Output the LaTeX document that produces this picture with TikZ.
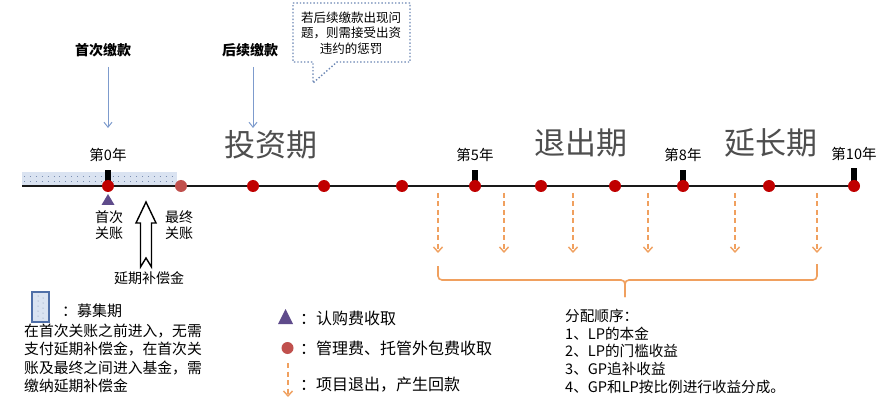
\documentclass[tikz,border=0pt]{standalone}
\usepackage{fontspec}
\setmainfont{Noto Sans CJK SC}
\usetikzlibrary{arrows.meta}
\definecolor{dotred}{RGB}{192,0,0}
\definecolor{lightred}{RGB}{192,80,77}
\definecolor{blueline}{RGB}{125,155,205}
\definecolor{fillblue}{RGB}{218,227,241}
\definecolor{dotblue}{RGB}{120,140,175}
\definecolor{boxblue}{RGB}{79,111,168}
\definecolor{calloutc}{RGB}{108,135,181}
\definecolor{orangec}{RGB}{240,160,95}
\definecolor{purplec}{RGB}{95,75,139}
\definecolor{bigtext}{RGB}{78,78,78}
\tikzset{
  reddot/.style={circle,fill=dotred,minimum size=12pt,inner sep=0pt},
  tickmark/.style={fill=black,draw=none},
  yearlbl/.style={font=\fontsize{14.5}{16}\selectfont,inner sep=0pt},
  biglbl/.style={font=\fontsize{31}{33}\selectfont,inner sep=0pt,text=bigtext},
  paylbl/.style={font=\bfseries\fontsize{14}{16}\selectfont,inner sep=0pt},
  bluearrow/.style={draw=blueline,line width=1pt,-{Straight Barb[length=5pt,width=8pt]}},
  orangearrow/.style={draw=orangec,line width=1.6pt,dash pattern=on 5pt off 3.5pt,-{Straight Barb[length=5pt,width=9pt,line width=1.4pt]}},
  smalltxt/.style={font=\fontsize{14}{16.5}\selectfont,inner sep=0pt},
  legtxt/.style={font=\fontsize{16}{18}\selectfont,inner sep=0pt,anchor=west},
  listtxt/.style={font=\fontsize{14.6}{17.7}\selectfont,inner sep=0pt,anchor=north west,align=left},
}
\begin{document}
\begin{tikzpicture}[x=1pt,y=-1pt]
\useasboundingbox[fill=white] (0,0) rectangle (889,414);

% fundraising period band
\fill[fillblue] (22,172) rectangle (177,186);
\foreach \yy in {176.5,181.5}{
  \draw[dotblue,line width=0.9pt,dash pattern=on 0.9pt off 5pt] (24,\yy) -- (177,\yy);
}

% timeline
\coordinate (tlstart) at (22,186);
\coordinate (tlend) at (855,186);
\draw[line width=2.2pt,black!90] (tlstart) -- (tlend);

% tick marks
\fill[tickmark] (105,170) rectangle (111,186);
\fill[tickmark] (472,170) rectangle (478,186);
\fill[tickmark] (680,170) rectangle (686,186);
\fill[tickmark] (851,168) rectangle (857,186);

% dots
\node[reddot] (d0) at (108,186) {};
\node[reddot,fill=lightred] (dfin) at (181,186) {};
\node[reddot] (d2) at (253,186) {};
\node[reddot] (d3) at (324,186) {};
\node[reddot] (d4) at (402,186) {};
\node[reddot] (d5) at (475,186) {};
\node[reddot] (d6) at (541,186) {};
\node[reddot] (d7) at (615,186) {};
\node[reddot] (d8) at (683,186) {};
\node[reddot] (d9) at (769,186) {};
\node[reddot] (d10) at (854,186) {};

% year labels
\node[yearlbl] (y0) at (108,155) {第0年};
\node[yearlbl] (y5) at (475,155) {第5年};
\node[yearlbl] (y8) at (683,155) {第8年};
\node[yearlbl] (y10) at (854,154) {第10年};

% period labels
\node[biglbl] (p1) at (271,145) {投资期};
\node[biglbl] (p2) at (581,143) {退出期};
\node[biglbl] (p3) at (771,143) {延长期};

% payments
\node[paylbl] (pay1) at (103,50) {首次缴款};
\node[paylbl] (pay2) at (250,50) {后续缴款};
\coordinate (a1e) at (108,128);
\coordinate (a2e) at (253,128);
\draw[bluearrow] (108,67) -- (a1e);
\draw[bluearrow] (253,67) -- (a2e);

% callout
\draw[calloutc,line width=1.4pt,dotted] (293,3) -- (410,3) -- (410,62) -- (337,62) -- (313,83) -- (313,62) -- (293,62) -- cycle;
\node[font=\fontsize{12.5}{15.5}\selectfont,align=center,inner sep=0pt] (callout) at (351,33) {若后续缴款出现问\\题，则需接受出资\\违约的惩罚};

% under timeline
\fill[purplec] (108,194) -- (114.5,205) -- (101.5,205) -- cycle;
\node[smalltxt,align=center] (firstclose) at (109,225) {首次\\关账};
\node[smalltxt,align=center] (finalclose) at (179,225) {最终\\关账};
\draw[black,line width=1.4pt,fill=white,line join=miter] (146,202) -- (156,223) -- (151.5,223) -- (151.5,267) -- (146,258) -- (140.5,267) -- (140.5,223) -- (136,223) -- cycle;
\node[smalltxt] (comp) at (149,278) {延期补偿金};

% legend: fundraising box
\draw[boxblue,line width=1.5pt,fill=fillblue] (32,292) rectangle (49,322);
\foreach \yy in {296,301,306,311,316}{
  \fill[dotblue] (38,\yy) circle (0.5pt);
  \fill[dotblue] (43,\yy+2) circle (0.5pt);
}
\node[font=\fontsize{15}{17}\selectfont,inner sep=0pt,anchor=west] (legfund) at (62,311) {：募集期};
\node[font=\fontsize{14.8}{18.2}\selectfont,inner sep=0pt,anchor=north west,align=left] (legpara) at (24,324) {在首次关账之前进入，无需\\支付延期补偿金，在首次关\\账及最终之间进入基金，需\\缴纳延期补偿金};

% legend: symbols
\fill[purplec] (285.5,309) -- (293,324) -- (278,324) -- cycle;
\node[legtxt] (legtri) at (300,318) {：认购费收取};
\fill[lightred] (287.5,348) circle (6pt);
\node[legtxt] (legdot) at (300,348) {：管理费、托管外包费收取};
\coordinate (lat) at (288,363);
\coordinate (lab) at (288,397);
\draw[orangearrow] (lat) -- (lab);
\node[legtxt] (legarr) at (300,385) {：项目退出，产生回款};

% exit arrows
\foreach \x [count=\i] in {438,504,573,648,735,817}{
  \coordinate (ot\i) at (\x,193);
  \coordinate (ob\i) at (\x,253);
  \draw[orangearrow] (ot\i) -- (ob\i);
}

% brace
\coordinate (bl) at (438,266);
\coordinate (br) at (817,264);
\coordinate (bt) at (625,297);
\draw[orangec,line width=1.6pt,rounded corners=4pt] (bl) -- (438,280) -- (625,280) -- (bt);
\draw[orangec,line width=1.6pt,rounded corners=4pt] (br) -- (817,280) -- (625,280) -- (bt);

% distribution order
\node[listtxt] (dist) at (565,309) {分配顺序：\\1、LP的本金\\2、LP的门槛收益\\3、GP追补收益\\4、GP和LP按比例进行收益分成。};
\end{tikzpicture}
\end{document}
